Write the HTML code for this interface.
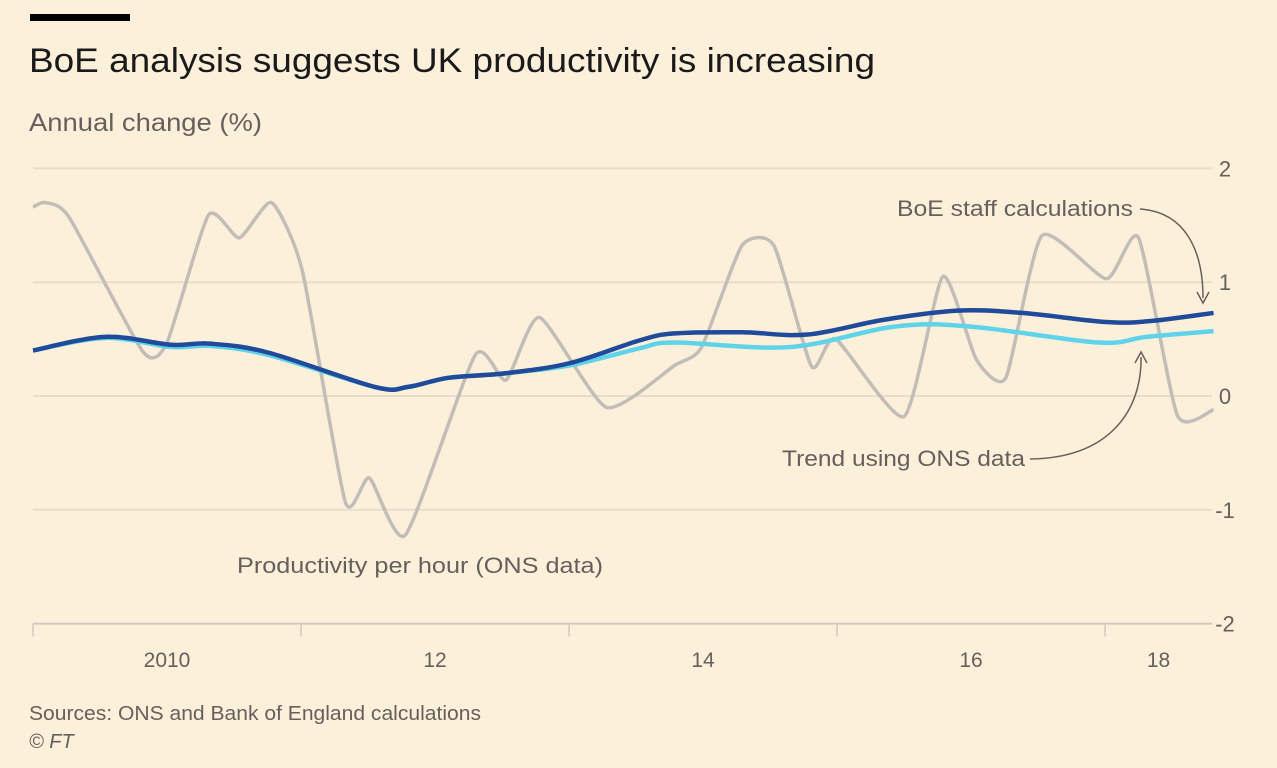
<!DOCTYPE html>
<html><head><meta charset="utf-8"><style>
body{margin:0;background:#fdf0db;}
svg{display:block;font-family:"Liberation Sans",sans-serif;}
</style></head><body>
<svg id="chart" width="1277" height="768" viewBox="0 0 1277 768">
<rect width="1277" height="768" fill="#fdf0db"/>
<rect x="30" y="14" width="100" height="7" fill="#000"/>
<text x="29" y="72" font-size="34" fill="#1a1a1a" textLength="846" lengthAdjust="spacingAndGlyphs">BoE analysis suggests UK productivity is increasing</text>
<text x="29" y="131" font-size="25" fill="#66605c" textLength="233" lengthAdjust="spacingAndGlyphs">Annual change (%)</text>
<g id="grid"></g>
<g id="series"></g>
<text x="897" y="216" font-size="22" fill="#66605c" textLength="236" lengthAdjust="spacingAndGlyphs">BoE staff calculations</text>
<path d="M1140,209 C1185,212 1203,250 1203,298" fill="none" stroke="#66605c" stroke-width="1.5"/>
<path d="M1197,292 L1203,303 L1209,292" fill="none" stroke="#66605c" stroke-width="1.5"/>
<text x="782" y="466" font-size="22" fill="#66605c" textLength="243" lengthAdjust="spacingAndGlyphs">Trend using ONS data</text>
<path d="M1030,459 C1110,458 1142,410 1141,357" fill="none" stroke="#66605c" stroke-width="1.5"/>
<path d="M1135,363 L1141,352 L1147,363" fill="none" stroke="#66605c" stroke-width="1.5"/>
<text x="237" y="573" font-size="22" fill="#66605c" textLength="366" lengthAdjust="spacingAndGlyphs">Productivity per hour (ONS data)</text>
<text x="29" y="720" font-size="20" fill="#66605c" textLength="452" lengthAdjust="spacingAndGlyphs">Sources: ONS and Bank of England calculations</text>
<text x="29" y="748" font-size="20" fill="#66605c" font-style="italic">© FT</text>
</svg>
<script>
const yTicks=[2,1,0,-1,-2];
const xTickYears=[2010,2012,2014,2016,2018];
const xLabels=["2010","12","14","16","18"];
const grayDates=[2010.0,2010.09,2010.27,2010.82,2011.0,2011.31,2011.54,2011.78,2012.01,2012.33,2012.51,2012.78,2013.3,2013.53,2013.78,2014.28,2014.79,2014.99,2015.29,2015.53,2015.81,2015.99,2016.5,2016.79,2017.04,2017.26,2017.53,2018.01,2018.25,2018.54,2018.81];
const grayValues=[1.66,1.70,1.57,0.39,0.47,1.59,1.39,1.70,1.1,-0.93,-0.72,-1.22,0.36,0.14,0.69,-0.1,0.27,0.43,1.32,1.32,0.26,0.5,-0.18,1.05,0.32,0.16,1.41,1.03,1.39,-0.17,-0.12];
const boeDates=[2010.0,2010.54,2011.03,2011.32,2011.76,2012.55,2012.80,2013.10,2013.53,2014.01,2014.53,2014.79,2015.29,2015.78,2016.35,2016.90,2017.38,2018.01,2018.35,2018.81];
const boeValues=[0.40,0.52,0.45,0.46,0.38,0.08,0.08,0.16,0.20,0.29,0.49,0.55,0.56,0.54,0.67,0.75,0.73,0.65,0.66,0.73];
const trendDates=[2010.0,2010.54,2011.03,2011.32,2011.76,2012.55,2012.80,2013.10,2013.53,2014.01,2014.53,2014.79,2015.65,2016.43,2017.0,2017.95,2018.31,2018.81];
const trendValues=[0.40,0.51,0.43,0.44,0.36,0.08,0.08,0.16,0.20,0.27,0.42,0.47,0.43,0.61,0.61,0.47,0.52,0.57];
const X0=33,PX_YEAR=134,Y0=396,PX_UNIT=113.8,XEND=1212;
const xs=t=>X0+(t-2010)*PX_YEAR;
const ys=v=>Y0-v*PX_UNIT;
const NS="http://www.w3.org/2000/svg";
const grid=document.getElementById('grid'),series=document.getElementById('series');
function mk(tag,attrs,parent){const e=document.createElementNS(NS,tag);for(const k in attrs)e.setAttribute(k,attrs[k]);parent.appendChild(e);return e;}
yTicks.forEach(v=>{
  const l=mk('line',{x1:X0,x2:XEND,y1:ys(v),y2:ys(v),stroke:v===-2?'#d3cabd':'#e8ddcc','stroke-width':2},grid);
  
  
  const t=mk('text',{x:1225,y:ys(v)+8,'font-size':22,fill:'#66605c','text-anchor':'middle'},grid);
  t.textContent=v<0?'-'+Math.abs(v):String(v);
  
  
});
xTickYears.forEach((yr,i)=>{
  const x=xs(yr);
  const tk=mk('line',{x1:x,x2:x,y1:ys(-2),y2:ys(-2)+13,stroke:'#d3cabd','stroke-width':1.5},grid);
  
  
  const next=i<xTickYears.length-1?xs(xTickYears[i+1]):XEND;
  const t=mk('text',{x:(x+next)/2,y:667,'font-size':21,fill:'#66605c','text-anchor':'middle'},grid);
  t.textContent=xLabels[i];
  
  
});
function smooth(dates,vals,k){
  const p=dates.map((d,i)=>[xs(d),ys(vals[i])]);
  let d='M'+p[0][0]+','+p[0][1];
  for(let i=0;i<p.length-1;i++){
    const p0=p[i-1]||p[i],p1=p[i],p2=p[i+1],p3=p[i+2]||p2;
    const c1=[p1[0]+(p2[0]-p0[0])*k,p1[1]+(p2[1]-p0[1])*k];
    const c2=[p2[0]-(p3[0]-p1[0])*k,p2[1]-(p3[1]-p1[1])*k];
    d+=' C'+c1[0]+','+c1[1]+' '+c2[0]+','+c2[1]+' '+p2[0]+','+p2[1];
  }
  return d;
}
const g=mk('path',{d:smooth(grayDates,grayValues,0.1),fill:'none',stroke:'#c2bdb6','stroke-width':3.5,'stroke-linejoin':'round'},series);


const tr=mk('path',{d:smooth(trendDates,trendValues,1/6),fill:'none',stroke:'#5fd3ea','stroke-width':4.5},series);


const b=mk('path',{d:smooth(boeDates,boeValues,1/6),fill:'none',stroke:'#204a9a','stroke-width':4.5},series);


</script>
</body></html>
